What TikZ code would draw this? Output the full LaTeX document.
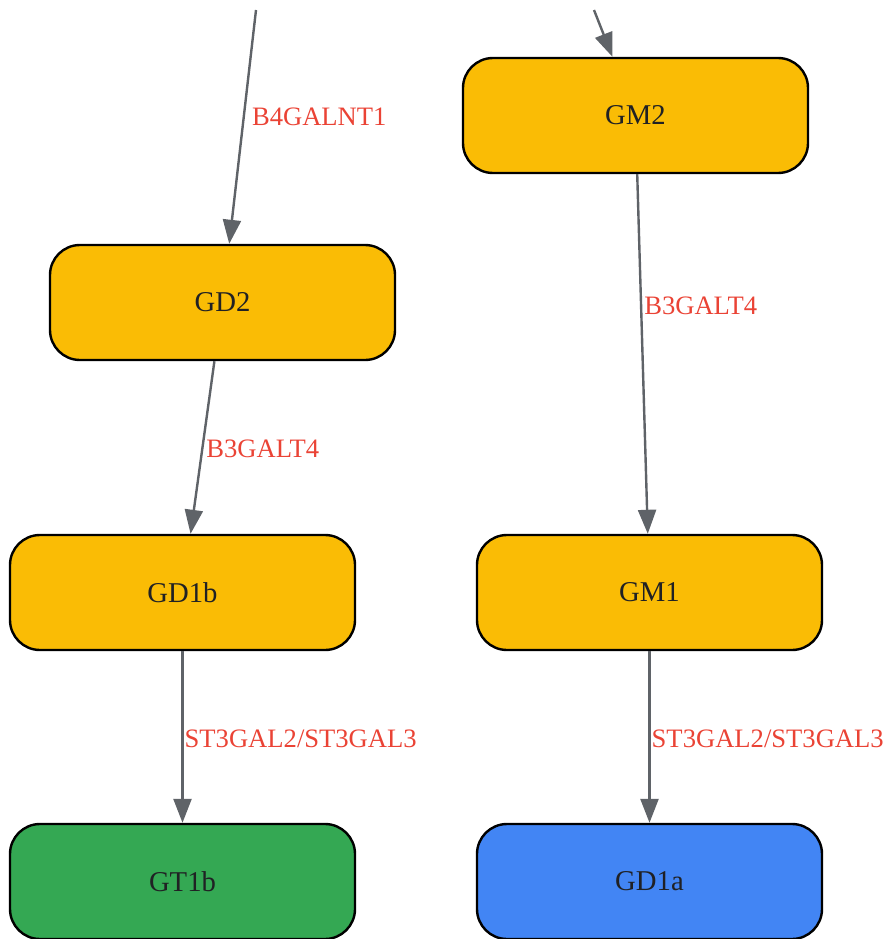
\documentclass[tikz,border=0pt]{standalone}
\usepackage{fontspec}
\setmainfont{Liberation Serif}
\usepackage{tikz}
\usetikzlibrary{arrows.meta,positioning,shapes}
\usepackage{xcolor}

\definecolor{jaune}{HTML}{FABC05}
\definecolor{vert}{HTML}{34A853}
\definecolor{bleu}{HTML}{4285F4}
\definecolor{gris}{HTML}{5F6368}
\definecolor{rouge}{HTML}{EA4335}
\definecolor{encre}{HTML}{202124}

\tikzset{
  lipide/.style={draw=black, line width=2.4pt, rounded corners=30pt,
    minimum width=345pt, minimum height=115pt, text=encre,
    font=\fontsize{28.7}{32}\selectfont},
  fleche/.style={draw=gris, line width=2.4pt, -{Triangle[length=24pt,width=18pt]}},
  enzyme/.style={anchor=west, inner sep=1pt, text=rouge,
    font=\fontsize{26.6}{30}\selectfont}
}

\begin{document}
\begin{tikzpicture}[x=1pt, y=-1pt]

\useasboundingbox (0,0) rectangle (884,939);

% noeuds
\node[lipide, fill=jaune] (GM2) at (635.5,115.5) {GM2};
\node[lipide, fill=jaune] (GD2) at (222.5,302.5) {GD2};
\node[lipide, fill=jaune] (GD1b) at (182.5,592.5) {GD1b};
\node[lipide, fill=jaune] (GM1) at (649.5,592.5) {GM1};
\node[lipide, fill=vert] (GT1b) at (182.5,881.5) {GT1b};
\node[lipide, fill=bleu] (GD1a) at (649.5,881.5) {GD1a};

% entrees
\coordinate (inGD2) at (256,10);
\coordinate (inGM2) at (594,10);

% fleches
\draw[fleche] (inGD2) -- node[enzyme, pos=0.455, xshift=6pt]{B4GALNT1} (GD2);
\draw[fleche] (inGM2) -- (GM2);
\draw[fleche] (GD2) -- node[enzyme, pos=0.51, xshift=2pt]{B3GALT4} (GD1b);
\draw[fleche] (GM2) -- node[enzyme, pos=0.365, xshift=1pt]{B3GALT4} (GM1);
\draw[fleche] (GD1b) -- node[enzyme, pos=0.5, yshift=-2pt]{ST3GAL2/ST3GAL3} (GT1b);
\draw[fleche] (GM1) -- node[enzyme, pos=0.5, yshift=-2pt]{ST3GAL2/ST3GAL3} (GD1a);

\end{tikzpicture}
\end{document}
